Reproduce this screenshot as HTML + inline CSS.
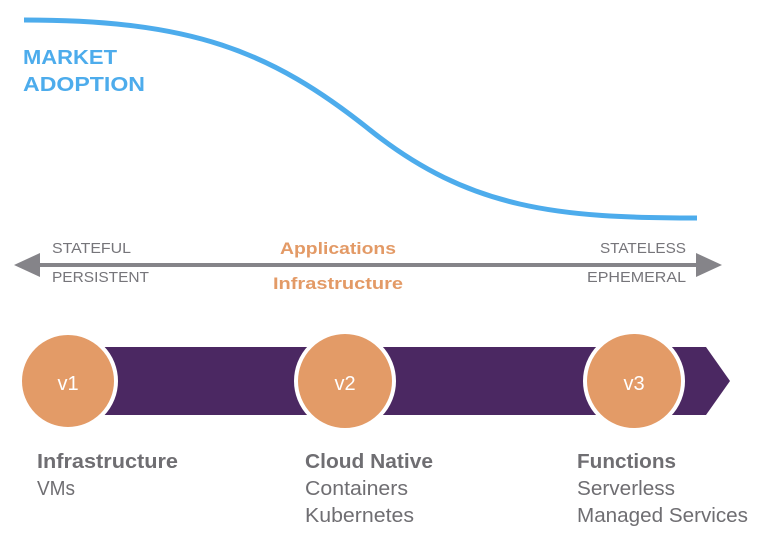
<!DOCTYPE html>
<html><head><meta charset="utf-8"><style>
html,body{margin:0;padding:0;background:#fff;}
svg{display:block;}
</style></head><body>
<svg width="769" height="541" viewBox="0 0 769 541" xmlns="http://www.w3.org/2000/svg" font-family="Liberation Sans, sans-serif">
<path d="M24,20 C190,20 270,50 370,130 C470,210 560,218 697,218" fill="none" stroke="#4dacec" stroke-width="5"/>
<text x="23" y="64" font-size="20" font-weight="bold" fill="#4dacec" textLength="94" lengthAdjust="spacingAndGlyphs">MARKET</text>
<text x="23" y="91" font-size="20" font-weight="bold" fill="#4dacec" textLength="122" lengthAdjust="spacingAndGlyphs">ADOPTION</text>

<line x1="30" y1="265" x2="705" y2="265" stroke="#858489" stroke-width="4"/>
<polygon points="14,265 40,253 40,277" fill="#858489"/>
<polygon points="722,265 696,253 696,277" fill="#858489"/>
<text x="52" y="253" font-size="15" fill="#76757a" textLength="79" lengthAdjust="spacingAndGlyphs">STATEFUL</text>
<text x="52" y="282" font-size="15" fill="#76757a" textLength="97" lengthAdjust="spacingAndGlyphs">PERSISTENT</text>
<text x="686" y="253" font-size="15" fill="#76757a" text-anchor="end" textLength="86" lengthAdjust="spacingAndGlyphs">STATELESS</text>
<text x="686" y="282" font-size="15" fill="#76757a" text-anchor="end" textLength="99" lengthAdjust="spacingAndGlyphs">EPHEMERAL</text>
<text x="338" y="254" font-size="17" font-weight="bold" fill="#e39a66" text-anchor="middle" textLength="116" lengthAdjust="spacingAndGlyphs">Applications</text>
<text x="338" y="289" font-size="17" font-weight="bold" fill="#e39a66" text-anchor="middle" textLength="130" lengthAdjust="spacingAndGlyphs">Infrastructure</text>

<polygon points="100,347 706,347 730,381 706,415 100,415" fill="#4b2862"/>
<circle cx="68" cy="381" r="48" fill="#e39b67" stroke="#fff" stroke-width="4"/>
<circle cx="345" cy="381" r="49" fill="#e39b67" stroke="#fff" stroke-width="4"/>
<circle cx="634" cy="381" r="49" fill="#e39b67" stroke="#fff" stroke-width="4"/>
<text x="68" y="390" font-size="20" fill="#fff" text-anchor="middle">v1</text>
<text x="345" y="390" font-size="20" fill="#fff" text-anchor="middle">v2</text>
<text x="634" y="390" font-size="20" fill="#fff" text-anchor="middle">v3</text>

<g font-size="20" fill="#6f6e72">
<text x="37" y="468" font-weight="bold" textLength="141" lengthAdjust="spacingAndGlyphs">Infrastructure</text>
<text x="37" y="495" textLength="38" lengthAdjust="spacingAndGlyphs">VMs</text>
<text x="305" y="468" font-weight="bold" textLength="128" lengthAdjust="spacingAndGlyphs">Cloud Native</text>
<text x="305" y="495" textLength="103" lengthAdjust="spacingAndGlyphs">Containers</text>
<text x="305" y="522" textLength="109" lengthAdjust="spacingAndGlyphs">Kubernetes</text>
<text x="577" y="468" font-weight="bold" textLength="99" lengthAdjust="spacingAndGlyphs">Functions</text>
<text x="577" y="495" textLength="98" lengthAdjust="spacingAndGlyphs">Serverless</text>
<text x="577" y="522" textLength="171" lengthAdjust="spacingAndGlyphs">Managed Services</text>
</g>
</svg>
</body></html>
